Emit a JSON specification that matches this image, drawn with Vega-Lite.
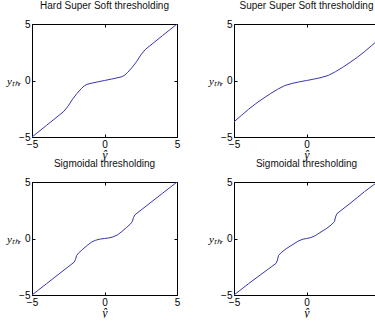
{
  "$schema": "https://vega.github.io/schema/vega-lite/v6.json",
  "autosize": {"type": "pad"},
  "padding": {"left": 6, "top": 1, "right": 0, "bottom": 0},
  "background": "white",
  "datasets": {
    "hss": [
      {"x": -5, "y": -5}, {"x": -4, "y": -3.97}, {"x": -3, "y": -2.94}, {"x": -2.8, "y": -2.72},
      {"x": -2.5, "y": -2.25}, {"x": -2.2, "y": -1.65}, {"x": -1.9, "y": -1.15}, {"x": -1.6, "y": -0.72},
      {"x": -1.4, "y": -0.48}, {"x": -1.2, "y": -0.34}, {"x": -1, "y": -0.27}, {"x": -0.5, "y": -0.13},
      {"x": 0, "y": 0}, {"x": 0.5, "y": 0.13}, {"x": 1, "y": 0.27}, {"x": 1.2, "y": 0.34},
      {"x": 1.4, "y": 0.48}, {"x": 1.6, "y": 0.72}, {"x": 1.9, "y": 1.15}, {"x": 2.2, "y": 1.65},
      {"x": 2.5, "y": 2.25}, {"x": 2.8, "y": 2.72}, {"x": 3, "y": 2.94}, {"x": 4, "y": 3.97}, {"x": 5, "y": 5}
    ],
    "sss": [
      {"x": -5, "y": -3.66}, {"x": -4.5, "y": -3.1}, {"x": -4, "y": -2.55}, {"x": -3.5, "y": -2.05},
      {"x": -3, "y": -1.6}, {"x": -2.5, "y": -1.17}, {"x": -2, "y": -0.78}, {"x": -1.5, "y": -0.45},
      {"x": -1, "y": -0.26}, {"x": -0.5, "y": -0.12}, {"x": 0, "y": 0}, {"x": 0.5, "y": 0.12},
      {"x": 1, "y": 0.26}, {"x": 1.5, "y": 0.45}, {"x": 2, "y": 0.78}, {"x": 2.5, "y": 1.17},
      {"x": 3, "y": 1.6}, {"x": 3.5, "y": 2.05}, {"x": 4, "y": 2.55}, {"x": 4.5, "y": 3.1}, {"x": 5, "y": 3.66}
    ],
    "sig1": [
      {"x": -5, "y": -5}, {"x": -4, "y": -4}, {"x": -3, "y": -3}, {"x": -2.1, "y": -2.1},
      {"x": -2.0, "y": -1.85}, {"x": -1.92, "y": -1.5}, {"x": -1.8, "y": -1.3}, {"x": -1.5, "y": -0.95},
      {"x": -1.2, "y": -0.62}, {"x": -0.9, "y": -0.32}, {"x": -0.6, "y": -0.15}, {"x": -0.3, "y": -0.05},
      {"x": 0, "y": 0}, {"x": 0.3, "y": 0.05}, {"x": 0.6, "y": 0.15}, {"x": 0.9, "y": 0.32},
      {"x": 1.2, "y": 0.62}, {"x": 1.5, "y": 0.95}, {"x": 1.8, "y": 1.3}, {"x": 1.92, "y": 1.5},
      {"x": 2.0, "y": 1.85}, {"x": 2.1, "y": 2.1}, {"x": 3, "y": 3}, {"x": 4, "y": 4}, {"x": 5, "y": 5}
    ],
    "sig2": [
      {"x": -5, "y": -5}, {"x": -4, "y": -4}, {"x": -3, "y": -3.05}, {"x": -2.1, "y": -2.2},
      {"x": -2.0, "y": -1.9}, {"x": -1.93, "y": -1.5}, {"x": -1.7, "y": -1.2}, {"x": -1.4, "y": -0.9},
      {"x": -1.0, "y": -0.58}, {"x": -0.6, "y": -0.25}, {"x": -0.3, "y": -0.08}, {"x": 0, "y": 0},
      {"x": 0.3, "y": 0.08}, {"x": 0.6, "y": 0.25}, {"x": 1.0, "y": 0.58}, {"x": 1.4, "y": 0.9},
      {"x": 1.7, "y": 1.2}, {"x": 1.93, "y": 1.5}, {"x": 2.0, "y": 1.9}, {"x": 2.1, "y": 2.2},
      {"x": 3, "y": 3.1}, {"x": 4, "y": 4.15}, {"x": 5, "y": 5.1}
    ]
  },
  "columns": 2,
  "spacing": {"column": 57, "row": 45},
  "bounds": "flush",
  "concat": [
    {
      "width": 145, "height": 113,
      "title": "Hard Super Soft thresholding",
      "data": {"name": "hss"},
      "layer": [
        {"mark": {"type": "line", "color": "#3636b0", "strokeWidth": 1, "clip": true},
         "encoding": {
           "x": {"field": "x", "type": "quantitative", "scale": {"domain": [-5, 5], "nice": false}, "axis": {"orient": "bottom", "title": "ŷ", "values": [-5, 0, 5]}},
           "y": {"field": "y", "type": "quantitative", "scale": {"domain": [-5, 5], "nice": false}, "axis": {"orient": "left", "title": "yₜₕᵣ", "values": [-5, 0, 5]}}
         }},
        {"mark": {"type": "line", "opacity": 0},
         "encoding": {
           "x": {"field": "x", "type": "quantitative", "scale": {"domain": [-5, 5], "nice": false}, "axis": {"orient": "top", "labels": false, "title": null, "values": [-5, 0, 5]}},
           "y": {"field": "y", "type": "quantitative", "scale": {"domain": [-5, 5], "nice": false}, "axis": {"orient": "right", "labels": false, "title": null, "values": [-5, 0, 5]}}
         }}
      ],
      "resolve": {"axis": {"x": "independent", "y": "independent"}}
    },
    {
      "width": 145, "height": 113,
      "title": "Super Super Soft thresholding",
      "data": {"name": "sss"},
      "layer": [
        {"mark": {"type": "line", "color": "#3636b0", "strokeWidth": 1, "clip": true},
         "encoding": {
           "x": {"field": "x", "type": "quantitative", "scale": {"domain": [-5, 5], "nice": false}, "axis": {"orient": "bottom", "title": "ŷ", "values": [-5, 0, 5]}},
           "y": {"field": "y", "type": "quantitative", "scale": {"domain": [-5, 5], "nice": false}, "axis": {"orient": "left", "title": "yₜₕᵣ", "values": [-5, 0, 5]}}
         }},
        {"mark": {"type": "line", "opacity": 0},
         "encoding": {
           "x": {"field": "x", "type": "quantitative", "scale": {"domain": [-5, 5], "nice": false}, "axis": {"orient": "top", "labels": false, "title": null, "values": [-5, 0, 5]}},
           "y": {"field": "y", "type": "quantitative", "scale": {"domain": [-5, 5], "nice": false}, "axis": {"orient": "right", "labels": false, "title": null, "values": [-5, 0, 5]}}
         }}
      ],
      "resolve": {"axis": {"x": "independent", "y": "independent"}}
    },
    {
      "width": 145, "height": 113,
      "title": "Sigmoidal thresholding",
      "data": {"name": "sig1"},
      "layer": [
        {"mark": {"type": "line", "color": "#3636b0", "strokeWidth": 1, "clip": true},
         "encoding": {
           "x": {"field": "x", "type": "quantitative", "scale": {"domain": [-5, 5], "nice": false}, "axis": {"orient": "bottom", "title": "ŷ", "values": [-5, 0, 5]}},
           "y": {"field": "y", "type": "quantitative", "scale": {"domain": [-5, 5], "nice": false}, "axis": {"orient": "left", "title": "yₜₕᵣ", "values": [-5, 0, 5]}}
         }},
        {"mark": {"type": "line", "opacity": 0},
         "encoding": {
           "x": {"field": "x", "type": "quantitative", "scale": {"domain": [-5, 5], "nice": false}, "axis": {"orient": "top", "labels": false, "title": null, "values": [-5, 0, 5]}},
           "y": {"field": "y", "type": "quantitative", "scale": {"domain": [-5, 5], "nice": false}, "axis": {"orient": "right", "labels": false, "title": null, "values": [-5, 0, 5]}}
         }}
      ],
      "resolve": {"axis": {"x": "independent", "y": "independent"}}
    },
    {
      "width": 145, "height": 113,
      "title": "Sigmoidal thresholding",
      "data": {"name": "sig2"},
      "layer": [
        {"mark": {"type": "line", "color": "#3636b0", "strokeWidth": 1, "clip": true},
         "encoding": {
           "x": {"field": "x", "type": "quantitative", "scale": {"domain": [-5, 5], "nice": false}, "axis": {"orient": "bottom", "title": "ŷ", "values": [-5, 0, 5]}},
           "y": {"field": "y", "type": "quantitative", "scale": {"domain": [-5, 5], "nice": false}, "axis": {"orient": "left", "title": "yₜₕᵣ", "values": [-5, 0, 5]}}
         }},
        {"mark": {"type": "line", "opacity": 0},
         "encoding": {
           "x": {"field": "x", "type": "quantitative", "scale": {"domain": [-5, 5], "nice": false}, "axis": {"orient": "top", "labels": false, "title": null, "values": [-5, 0, 5]}},
           "y": {"field": "y", "type": "quantitative", "scale": {"domain": [-5, 5], "nice": false}, "axis": {"orient": "right", "labels": false, "title": null, "values": [-5, 0, 5]}}
         }}
      ],
      "resolve": {"axis": {"x": "independent", "y": "independent"}}
    }
  ],
  "config": {
    "view": {"stroke": null},
    "title": {"font": "Liberation Sans", "fontSize": 10, "fontWeight": "normal", "color": "#111", "anchor": "middle", "offset": 8},
    "axis": {
      "grid": false,
      "domain": true,
      "domainColor": "black",
      "domainWidth": 1,
      "tickColor": "black",
      "tickSize": -3,
      "labelFont": "Liberation Sans",
      "labelFontSize": 10,
      "labelColor": "black",
      "labelOverlap": false,
      "titleColor": "black",
      "titleFont": "Liberation Serif",
      "titleFontStyle": "italic",
      "titleFontWeight": "normal",
      "titleFontSize": 11
    },
    "axisBottom": {"labelPadding": 5, "titlePadding": 0, "labelFlush": false, "titleFontSize": 12},
    "axisLeft": {"labelPadding": 5, "titleAngle": 0, "titleAlign": "right", "titleBaseline": "middle", "titleX": -11, "titleY": 57, "labelBaseline": "middle"},
    "axisTop": {"labelPadding": 0},
    "axisRight": {"labelPadding": 0}
  }
}
